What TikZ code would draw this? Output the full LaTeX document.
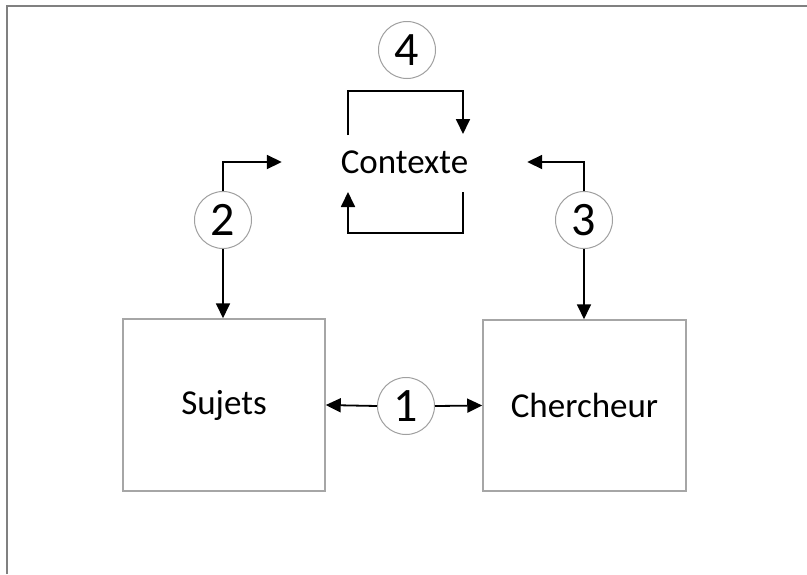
\documentclass[tikz,border=0pt]{standalone}
\usepackage{fontspec}
\setmainfont{Carlito}
\usetikzlibrary{arrows.meta}
\definecolor{boxgray}{HTML}{A6A6A6}
\definecolor{circgray}{HTML}{A0A0A0}
\definecolor{framegray}{HTML}{808080}
\tikzset{
  boxnode/.style={draw=boxgray, line width=1.5pt, rectangle, inner sep=0pt, font=\fontsize{35}{40}\selectfont},
  numnode/.style={draw=circgray, line width=1pt, circle, minimum size=57pt, inner sep=0pt, font=\fontsize{48}{52}\selectfont},
  ctxnode/.style={rectangle, inner sep=0pt, minimum width=245pt, minimum height=84pt, font=\fontsize{35}{40}\selectfont},
  arr/.style={line width=1.8pt, -{Triangle[length=15pt,width=14pt]}},
  plain/.style={line width=1.8pt}
}
\begin{document}
\begin{tikzpicture}[x=1pt,y=-1pt]
\useasboundingbox (0,0) rectangle (807,574);
\fill[white] (0,0) rectangle (807,574);
\draw[framegray, line width=1.5pt] (7,574) -- (7,6) -- (807,6);

\node[ctxnode] (ctx) at (404.5,162) {Contexte};
\node[boxnode, minimum width=202pt, minimum height=172pt] (sujets) at (224,405) {Sujets};
\node[boxnode, minimum width=203pt, minimum height=171pt] (cherch) at (584.5,405.5) {Chercheur};

\node[numnode] (c1) at (406,406) {1};
\node[numnode] (c2) at (223,220) {2};
\node[numnode] (c3) at (584,220) {3};
\node[numnode] (c4) at (407,50) {4};

% 1
\draw[arr] (c1.west) -- (sujets.east);
\draw[arr] (c1.east) -- (cherch.west);
% 2
\draw[arr] (c2.north) |- (ctx.west);
\draw[arr] (c2.south) -- (c2.south |- sujets.north);
% 3
\draw[arr] (c3.north) |- (ctx.east);
\draw[arr] (c3.south) -- (c3.south |- cherch.north);
% 4 loop
\coordinate (ta) at (348,135);
\coordinate (tb) at (463,134);
\coordinate (ba) at (463,192);
\coordinate (bb) at (348,192);
\draw[arr] (ta) -- (348,91) -- (463,91) -- (tb);
\draw[arr] (ba) -- (463,233) -- (348,233) -- (bb);
\end{tikzpicture}
\end{document}
